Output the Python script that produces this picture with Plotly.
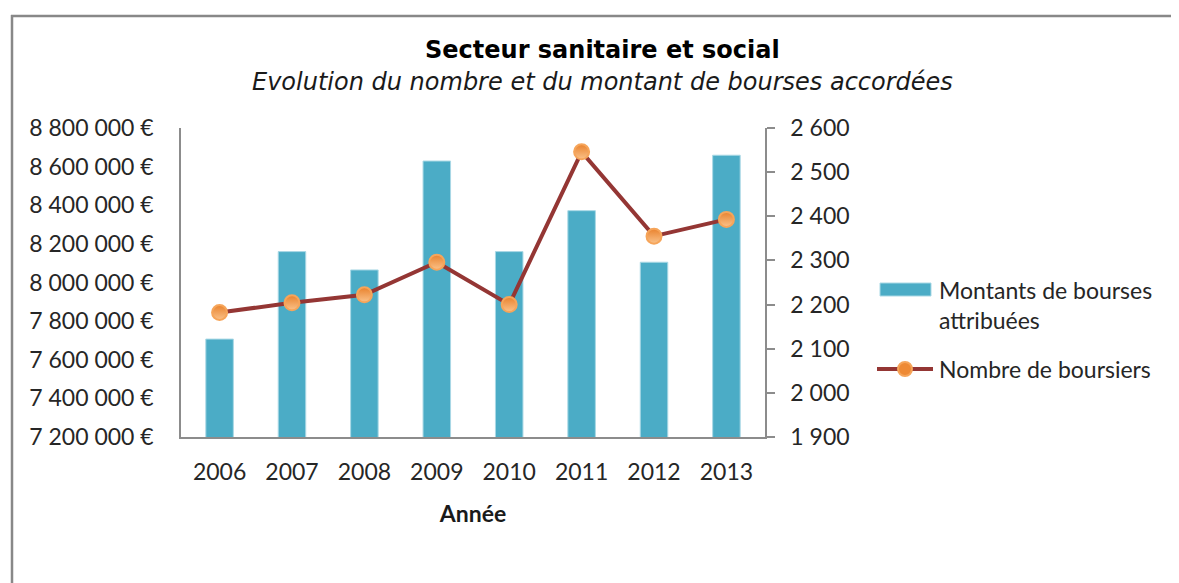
import plotly.graph_objects as go

years = ["2006", "2007", "2008", "2009", "2010", "2011", "2012", "2013"]
montants = [7707000, 8160000, 8065000, 8629000, 8160000, 8372000, 8105000, 8659000]
boursiers = [2182, 2204, 2222, 2296, 2200, 2546, 2355, 2393]

title_main = "Secteur sanitaire et social"
title_sub = "Evolution du nombre et du montant de bourses accordées"
bar_name = "Montants de bourses<br>attribuées"
line_name = "Nombre de boursiers"
x_title = "Année"

# page coordinates (the page body has an 8px margin)
PAGE_W, PAGE_H, OFF = 1179, 583, 8
W, H = PAGE_W - OFF, PAGE_H - OFF
L, R, T, B = 181, 765, 128, 437
pw, ph = R - L, B - T


def px(x):
    return (x - L) / pw


def py(y):
    return (B - y) / ph


TICK_FONT = dict(family="Lato, Open Sans, sans-serif", size=23, color="#262626")
BAR_COLOR = "#4BACC6"
LINE_COLOR = "#943634"

fig = go.Figure()
fig.add_trace(go.Bar(
    x=years, y=montants, name=bar_name, width=0.38,
    marker=dict(color=BAR_COLOR, line=dict(color="#A9D8E5", width=1)),
    showlegend=False, yaxis="y",
))
fig.add_trace(go.Scatter(
    x=years, y=boursiers, name=line_name, mode="lines+markers",
    line=dict(color=LINE_COLOR, width=4),
    marker=dict(size=15, color="#E9822D",
                gradient=dict(type="vertical", color="#FAC28A"),
                line=dict(color="#F6A55A", width=2)),
    showlegend=False, yaxis="y2",
))

axis_line = "#8C8C8C"
fig.update_layout(
    width=W, height=H,
    margin=dict(l=L - OFF, r=PAGE_W - R, t=T - OFF, b=PAGE_H - B, autoexpand=False),
    paper_bgcolor="white", plot_bgcolor="white",
    separators=", ",
    bargap=0.62,
    xaxis=dict(
        type="category", showgrid=False, showline=True, linecolor=axis_line, linewidth=1.5,
        ticks="", tickfont=TICK_FONT, ticklabelstandoff=14,
        title=dict(text="<b>" + x_title + "</b>",
                   font=dict(family="Lato, Open Sans, sans-serif", size=23, color="#1a1a1a"),
                   standoff=22),
    ),
    yaxis=dict(
        range=[7200000, 8800000], dtick=200000, tickformat=",d", ticksuffix=" €",
        showgrid=False, zeroline=False, showline=True, linecolor=axis_line, linewidth=1.5,
        ticks="", tickfont=TICK_FONT, ticklabelstandoff=21,
    ),
    yaxis2=dict(
        range=[1900, 2600], dtick=100, tickformat=",d", overlaying="y", side="right",
        showgrid=False, zeroline=False, showline=True, linecolor=axis_line, linewidth=1.5,
        ticks="outside", ticklen=8, tickcolor=axis_line, tickwidth=1.5,
        tickfont=TICK_FONT, ticklabelstandoff=11,
    ),
)

# frame (top and left edges only are visible)
fig.add_shape(type="line", xref="paper", yref="paper",
              x0=px(11), x1=px(1200), y0=py(16), y1=py(16),
              line=dict(color="#888888", width=2.5), layer="below")
fig.add_shape(type="line", xref="paper", yref="paper",
              x0=px(12), x1=px(12), y0=py(15), y1=py(600),
              line=dict(color="#888888", width=2.5), layer="below")

# titles
fig.add_annotation(x=px(602), y=py(50), xref="paper", yref="paper", showarrow=False,
                   xanchor="center", yanchor="middle",
                   text="<b>" + title_main + "</b>",
                   font=dict(family="DejaVu Sans", size=24, color="#000000"))
fig.add_annotation(x=px(602), y=py(82), xref="paper", yref="paper", showarrow=False,
                   xanchor="center", yanchor="middle",
                   text="<i>" + title_sub + "</i>",
                   font=dict(family="DejaVu Sans", size=24, color="#1a1a1a"))

# manual legend
fig.add_shape(type="rect", xref="paper", yref="paper",
              x0=px(880), x1=px(931), y0=py(296), y1=py(283),
              fillcolor=BAR_COLOR, line=dict(color="#A9D8E5", width=1))
fig.add_annotation(x=px(937), y=py(305), xref="paper", yref="paper", showarrow=False,
                   xanchor="left", yanchor="middle", align="left",
                   text=bar_name, font=TICK_FONT)
fig.add_shape(type="line", xref="paper", yref="paper",
              x0=px(877), x1=px(933), y0=py(369), y1=py(369),
              line=dict(color=LINE_COLOR, width=4))
fig.add_shape(type="circle", xref="paper", yref="paper",
              x0=px(898), x1=px(912), y0=py(376), y1=py(362),
              fillcolor="#EE8A35", line=dict(color="#F6A55A", width=2))
fig.add_annotation(x=px(937), y=py(369), xref="paper", yref="paper", showarrow=False,
                   xanchor="left", yanchor="middle", align="left",
                   text=line_name, font=TICK_FONT)

fig.write_html("out.html")
